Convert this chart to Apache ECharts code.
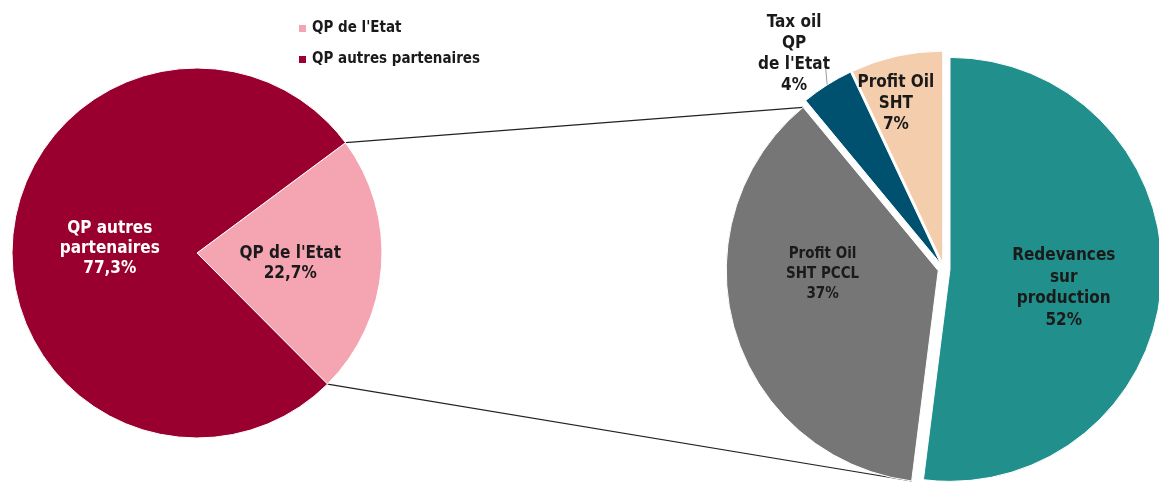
<!DOCTYPE html>
<html>
<head>
<meta charset="utf-8">
<script src="https://cdn.jsdelivr.net/npm/echarts@6/dist/echarts.min.js"></script>
<style>
  html, body { margin: 0; padding: 0; background: #fff; }
  #main { width: 1159px; height: 490px; }
</style>
</head>
<body>
<div id="main"></div>
<script>
// données du graphique
const mainCategories = ["QP de l'Etat", "QP autres partenaires"];
const mainValues = [22.7, 77.3];
const mainLabels = ["QP de l'Etat\n22,7%", "QP autres\npartenaires\n77,3%"];

const detailCategories = ["Redevances sur production", "Profit Oil SHT PCCL", "Tax oil QP de l'Etat", "Profit Oil SHT"];
const detailValues = [52, 37, 4, 7];
const detailLabels = ["Redevances\nsur\nproduction\n52%", "Profit Oil\nSHT PCCL\n37%", "Tax oil\nQP\nde l'Etat\n4%", "Profit Oil\nSHT\n7%"];

const FONT = '"DejaVu Sans Condensed", "DejaVu Sans", sans-serif';

// géométrie des deux camemberts
const left = { cx: 197, cy: 253, r: 185, start: 36.6 };
const right = { cx: 944, cy: 269, r: 212, start: 90, offset: 6 };

const el = document.getElementById('main');
const myChart = echarts.init(el);

const rad = a => a * Math.PI / 180;
const pt = (cx, cy, r, a) => [cx + r * Math.cos(rad(a)), cy - r * Math.sin(rad(a))];

// coins de la part "QP de l'Etat"
const mainTotal = mainValues.reduce((s, v) => s + v, 0);
const pinkEnd = left.start - mainValues[0] / mainTotal * 360;
const lTop = pt(left.cx, left.cy, left.r, left.start);
const lBot = pt(left.cx, left.cy, left.r, pinkEnd);

// coins de la part "Profit Oil SHT PCCL" (décalée)
const detTotal = detailValues.reduce((s, v) => s + v, 0);
const greyStart = right.start - detailValues[0] / detTotal * 360;
const greyEnd = greyStart - detailValues[1] / detTotal * 360;
const greyMid = (greyStart + greyEnd) / 2;
const gcx = right.cx + right.offset * Math.cos(rad(greyMid));
const gcy = right.cy - right.offset * Math.sin(rad(greyMid));
const rTop = pt(gcx, gcy, right.r, greyEnd);
const rBot = pt(gcx, gcy, right.r, greyStart);

const mainColors = ['#F5A5B2', '#99002F'];
const mainShift = [[-2, 3], [8, 3]];
const detailColors = ['#21908C', '#767676', '#00506F', '#F3CDAC'];
const detailLabelStyle = [
  { fontSize: 17, lineHeight: 21.5, shift: [5, 12] },
  { fontSize: 15, lineHeight: 20, shift: [-11, -27] },
  { fontSize: 17, lineHeight: 21, shift: [-18, -15] },
  { fontSize: 17, lineHeight: 21, shift: [-23, -53] }
];

const option = {
  animation: false,
  legend: {
    orient: 'vertical',
    left: 292,
    top: 16,
    itemGap: 16,
    itemWidth: 9,
    itemHeight: 9,
    icon: 'rect',
    data: mainCategories,
    textStyle: { fontFamily: FONT, fontSize: 15, fontWeight: 'bold', color: '#1a1a1a' }
  },
  series: [
    {
      type: 'pie',
      center: [left.cx, left.cy],
      radius: left.r,
      startAngle: left.start,
      clockwise: true,
      silent: true,
      itemStyle: { borderColor: '#fff', borderWidth: 1 },
      label: {
        position: 'inside',
        fontFamily: FONT,
        fontSize: 17,
        fontWeight: 'bold',
        lineHeight: 20,
        formatter: p => mainLabels[p.dataIndex]
      },
      labelLayout: p => ({ dx: mainShift[p.dataIndex][0], dy: mainShift[p.dataIndex][1] }),
      data: mainCategories.map((name, i) => ({
        name: name,
        value: mainValues[i],
        itemStyle: { color: mainColors[i] },
        label: { color: i === 1 ? '#fff' : '#1a1a1a' }
      }))
    },
    {
      type: 'pie',
      center: [right.cx, right.cy],
      radius: right.r,
      startAngle: right.start,
      clockwise: true,
      selectedMode: 'multiple',
      selectedOffset: right.offset,
      silent: true,
      itemStyle: { borderColor: '#fff', borderWidth: 1 },
      label: {
        position: 'inside',
        fontFamily: FONT,
        fontWeight: 'bold',
        color: '#1a1a1a',
        formatter: p => detailLabels[p.dataIndex]
      },
      labelLine: { show: false },
      labelLayout: function (params) {
        const s = detailLabelStyle[params.dataIndex].shift;
        const res = { dx: s[0], dy: s[1] };
        if (params.dataIndex === 2) {
          res.align = 'center';
          if (params.labelLinePoints) {
            const p0 = params.labelLinePoints[0];
            res.labelLinePoints = [p0, [p0[0] - 2, p0[1] - 22], [p0[0] - 2, p0[1] - 22]];
          }
        }
        return res;
      },
      data: detailCategories.map((name, i) => {
        const st = detailLabelStyle[i];
        const d = {
          name: name,
          value: detailValues[i],
          selected: true,
          itemStyle: { color: detailColors[i] },
          label: { fontSize: st.fontSize, lineHeight: st.lineHeight }
        };
        if (i === 2) {
          d.label.position = 'outside';
          d.labelLine = { show: true, length: 19, length2: 0, lineStyle: { color: '#999', width: 1 } };
        }
        return d;
      })
    }
  ],
  graphic: [
    { type: 'line', shape: { x1: lTop[0], y1: lTop[1], x2: rTop[0], y2: rTop[1] }, style: { stroke: '#222', lineWidth: 1.2 } },
    { type: 'line', shape: { x1: lBot[0], y1: lBot[1], x2: rBot[0], y2: rBot[1] }, style: { stroke: '#222', lineWidth: 1.2 } }
  ]
};

myChart.setOption(option);
</script>
</body>
</html>
